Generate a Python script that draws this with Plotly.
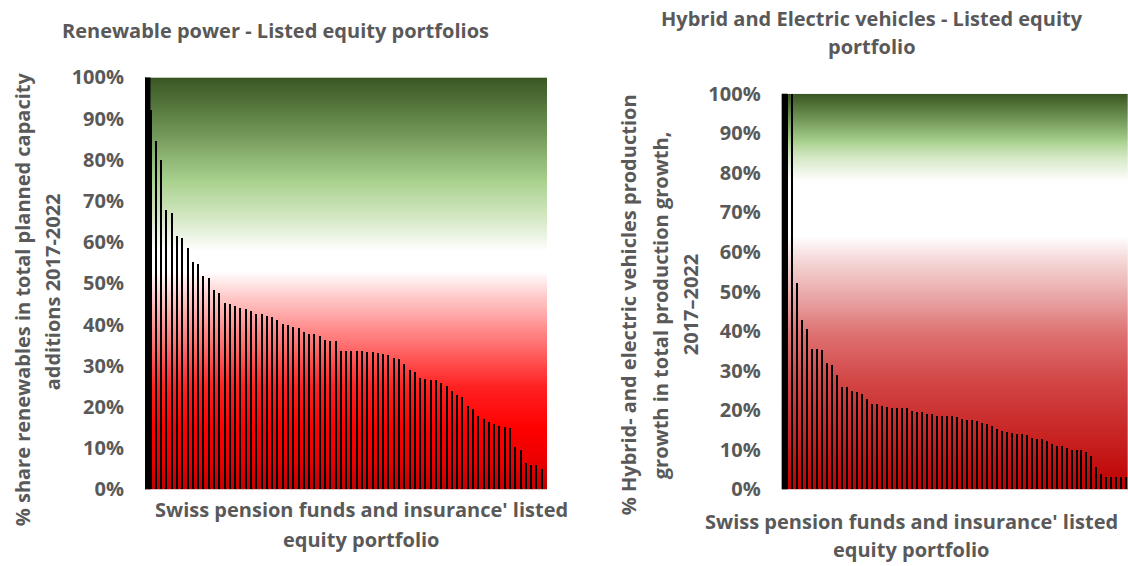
"""
Renewable power / hybrid-electric vehicles shares of Swiss pension fund portfolios
Two sorted bar charts over a green-white-red gradient background
"""
import numpy as np
import plotly.graph_objects as go

# Renewable power - share of renewables in planned capacity additions (%)
renew_pct = [
    100, 92, 84.4, 79.8, 67.6, 67, 61.3, 60.8, 58.6, 55, 54.7, 51.7, 51.1, 48.3,
    47.5, 45.2, 44.8, 44.4, 44, 43.8, 43.2, 42.4, 42.4, 42, 41.8, 41, 40, 39.8,
    39.2, 39.1, 38.2, 37.6, 37.5, 37.1, 36.2, 36, 36, 33.6, 33.6, 33.6, 33.4,
    33.4, 33.3, 33.3, 32.9, 32.8, 32.4, 31.9, 31.6, 30.4, 28.8, 28.4, 27, 26.6,
    26.5, 26.4, 25.8, 25, 23.7, 22.7, 22.3, 20.2, 19.3, 17.8, 17.1, 16.2, 15.8,
    15.4, 15.1, 14.9, 10.1, 9.5, 6.2, 5.7, 5.7, 4.8,
]

# Hybrid and electric vehicles - share in production growth (%)
hev_pct = [
    100, 100, 52.3, 42.8, 40.6, 35.6, 35.6, 35.2, 31.9, 31.6, 29.0, 25.8, 25.8,
    24.9, 24.7, 24.2, 22.9, 21.6, 21.6, 21.1, 20.9, 20.7, 20.6, 20.5, 20.5, 19.9,
    19.6, 19.5, 19.1, 19.1, 18.7, 18.6, 18.6, 18.5, 18.3, 17.9, 17.7, 17.5, 17.2,
    16.9, 16.5, 16.0, 15.4, 14.7, 14.5, 14.3, 14.0, 14.0, 13.8, 13.1, 12.7, 12.7,
    12.2, 11.5, 11.1, 11.1, 10.5, 10.1, 10.0, 10.0, 9.6, 8.6, 5.7, 3.9, 3.2, 3.2,
    3.2, 3.2, 3.2,
]

y_ticks = list(range(0, 101, 10))
y_labels = [f"{v}%" for v in y_ticks]

W, H = 1128, 566
FONT = "Open Sans"
FS = 20
GREY = "#595959"

# gradient colour stops (fraction of the 0-100% axis)
left_scale = [
    [0.0, "#c00000"], [0.06, "#e80000"], [0.15, "#ff0000"], [0.25, "#ff2222"],
    [0.38, "#ff8585"], [0.47, "#ffcccc"], [0.53, "#ffffff"], [0.58, "#ffffff"],
    [0.66, "#d5e8c5"], [0.75, "#a9d18e"], [0.87, "#6f9556"], [1.0, "#3a5723"],
]
right_scale = [
    [0.0, "#bf0000"], [0.12, "#c72020"], [0.27, "#d24545"], [0.39, "#de7070"],
    [0.48, "#e8a2a2"], [0.58, "#f5d8d8"], [0.64, "#ffffff"], [0.78, "#ffffff"],
    [0.84, "#d5e8c5"], [0.88, "#a9d18e"], [0.94, "#6f9556"], [1.0, "#3a5723"],
]


def px(x):
    return x / W


# the page ends up drawn ~542 px tall, 13 px down; map target pixels onto that
def py(y):
    return 1 - (y - 13.3) / 541.7


fig = go.Figure()

panels = [
    # values, colorscale, axis suffix, x range, x px span, y px span
    (renew_pct, left_scale, "", (-0.095, 75.96), (145, 547), (77, 491)),
    (hev_pct, right_scale, "2", (-1.02, 68.34), (781.7, 1128), (93.5, 491)),
]

for vals, scale, sfx, xr, xs, ys in panels:
    xa, ya = "x" + sfx, "y" + sfx
    # background gradient
    grad_y = np.linspace(0, 100, 101)
    fig.add_trace(go.Heatmap(
        x=list(xr), y=grad_y, z=np.column_stack([grad_y, grad_y]),
        colorscale=scale, zmin=0, zmax=100, zsmooth="best",
        showscale=False, hoverinfo="skip", xaxis=xa, yaxis=ya,
    ))
    fig.add_trace(go.Bar(
        x=list(range(len(vals))), y=vals, width=0.27,
        marker=dict(color="black", line=dict(width=0)),
        xaxis=xa, yaxis=ya, showlegend=False,
    ))
    # thick black left axis
    fig.add_shape(
        type="rect", xref=xa + " domain", yref=ya + " domain",
        x0=0, x1=5.5 / (xs[1] - xs[0]), y0=0, y1=1,
        fillcolor="black", line_width=0, layer="above",
    )

    axis_x = dict(
        domain=[px(xs[0]), px(xs[1])], range=list(xr), showticklabels=False,
        showgrid=False, zeroline=False, showline=True, linecolor="#e0c0c0",
        linewidth=1, fixedrange=True,
    )
    axis_y = dict(
        domain=[py(ys[1]), py(ys[0])], range=[0, 100], tickvals=y_ticks,
        ticktext=y_labels, showgrid=False, zeroline=False, showline=False,
        ticks="outside", ticklen=16, tickcolor="rgba(0,0,0,0)",
        tickfont=dict(family=FONT, size=FS, color=GREY, weight="bold"),
        fixedrange=True,
    )
    if sfx:
        axis_x["anchor"] = "y2"
        axis_y["anchor"] = "x2"
        fig.update_layout(xaxis2=axis_x, yaxis2=axis_y)
    else:
        axis_x["anchor"] = "y"
        axis_y["anchor"] = "x"
        fig.update_layout(xaxis=axis_x, yaxis=axis_y)

# text labels: (text, x px, y px, angle)
labels = [
    ("Renewable power - Listed equity portfolios", 275.5, 30, 0),
    ("Hybrid and Electric vehicles - Listed equity", 872, 18, 0),
    ("portfolio", 872, 46, 0),
    ("% share renewables in total planned capacity", 22, 300, -90),
    ("additions 2017-2022", 52, 293, -90),
    ("% Hybrid- and electric vehicles production", 628, 306, -90),
    ("growth in total production growth,", 660, 306, -90),
    ("2017\u20132022", 690, 306, -90),
    ("Swiss pension funds and insurance' listed", 361, 511, 0),
    ("equity portfolio", 361, 541, 0),
    ("Swiss pension funds and insurance' listed", 911, 523, 0),
    ("equity portfolio", 912, 551, 0),
]
for text, x, y, ang in labels:
    fig.add_annotation(
        text=text, x=px(x), y=py(y), xref="paper", yref="paper",
        xanchor="center", yanchor="middle", showarrow=False, textangle=ang,
        font=dict(family=FONT, size=FS, color=GREY, weight="bold"),
    )

fig.update_layout(
    width=W, height=H, margin=dict(l=0, r=0, t=0, b=0),
    paper_bgcolor="white", plot_bgcolor="white", bargap=0,
    showlegend=False,
)

fig.write_html(
    "out.html", config={"displayModeBar": False},
    post_script="document.body.style.margin='0';document.body.style.overflow='hidden';",
)
